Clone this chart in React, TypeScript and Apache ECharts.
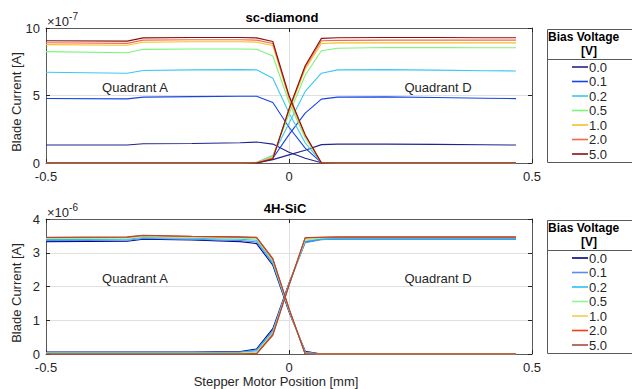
import React, { useEffect, useRef } from "react";
import * as echarts from "echarts";

// Stepper motor positions [mm]
const positions = [-0.5, -0.333, -0.3, -0.2, -0.1, -0.0667, -0.0333, 0, 0.0333, 0.0667, 0.1, 0.2, 0.3, 0.4, 0.467];

// Bias voltages [V]
const biasLabels = ["0.0", "0.1", "0.2", "0.5", "1.0", "2.0", "5.0"];

const diamondColors = ["#23238e", "#1446e6", "#3cc8f0", "#7af57a", "#f5c02a", "#f26a45", "#8b0f0f"];
const sicColors = ["#000080", "#5a8cf0", "#28c0f0", "#90f590", "#f5cc4a", "#f04010", "#aa4a40"];

// sc-diamond blade currents, units of 1e-7 A (one row per bias voltage)
const diamondQuadrantA = [
  [1.33, 1.33, 1.43, 1.45, 1.5, 1.55, 1.4, 0.8, 0.35, 0.02, 0, 0, 0, 0, 0],
  [4.78, 4.75, 4.88, 4.92, 4.95, 4.95, 4.48, 2.65, 1.1, 0.03, 0, 0, 0, 0, 0],
  [6.72, 6.65, 6.85, 6.9, 6.92, 6.9, 6.28, 3.7, 1.5, 0.05, 0, 0, 0, 0, 0],
  [8.25, 8.17, 8.42, 8.45, 8.45, 8.42, 7.93, 4.5, 1.85, 0.05, 0, 0, 0, 0, 0],
  [8.77, 8.72, 8.95, 8.98, 8.98, 8.95, 8.7, 4.8, 2.0, 0.03, 0, 0, 0, 0, 0],
  [8.91, 8.86, 9.1, 9.13, 9.13, 9.1, 8.85, 4.9, 2.05, 0.02, 0, 0, 0, 0, 0],
  [9.06, 9.03, 9.27, 9.3, 9.3, 9.27, 9.0, 5.0, 2.1, 0, 0, 0, 0, 0, 0],
];
const diamondQuadrantD = [
  [0, 0, 0, 0, 0, 0.01, 0.25, 0.6, 0.95, 1.36, 1.4, 1.4, 1.38, 1.35, 1.33],
  [0, 0, 0, 0, 0, 0.02, 0.35, 2.1, 3.7, 4.73, 4.88, 4.9, 4.85, 4.8, 4.77],
  [0, 0, 0, 0, 0, 0.05, 0.55, 2.95, 5.3, 6.65, 6.9, 6.92, 6.88, 6.83, 6.82],
  [0, 0, 0, 0, 0, 0.04, 0.5, 3.6, 6.5, 8.32, 8.5, 8.55, 8.55, 8.54, 8.54],
  [0, 0, 0, 0, 0, 0.03, 0.45, 3.85, 6.95, 8.85, 8.9, 8.9, 8.9, 8.9, 8.9],
  [0, 0, 0, 0, 0, 0.02, 0.35, 3.95, 7.1, 9.05, 9.08, 9.1, 9.1, 9.1, 9.1],
  [0, 0, 0, 0, 0, 0, 0.3, 4.0, 7.2, 9.23, 9.28, 9.3, 9.3, 9.28, 9.28],
];

// 4H-SiC blade currents, units of 1e-6 A (one row per bias voltage)
const sicQuadrantA = [
  [3.33, 3.34, 3.4, 3.38, 3.33, 3.27, 2.63, 1.25, 0.08, 0, 0, 0, 0, 0, 0],
  [3.36, 3.37, 3.42, 3.4, 3.36, 3.32, 2.68, 1.28, 0.06, 0, 0, 0, 0, 0, 0],
  [3.39, 3.4, 3.45, 3.43, 3.4, 3.37, 2.72, 1.3, 0.04, 0, 0, 0, 0, 0, 0],
  [3.42, 3.43, 3.48, 3.45, 3.43, 3.41, 2.76, 1.32, 0.02, 0, 0, 0, 0, 0, 0],
  [3.44, 3.45, 3.5, 3.47, 3.45, 3.44, 2.79, 1.33, 0.01, 0, 0, 0, 0, 0, 0],
  [3.45, 3.46, 3.51, 3.48, 3.46, 3.45, 2.81, 1.34, 0, 0, 0, 0, 0, 0, 0],
  [3.46, 3.47, 3.52, 3.49, 3.47, 3.46, 2.83, 1.35, 0, 0, 0, 0, 0, 0, 0],
];
const sicQuadrantD = [
  [0.06, 0.06, 0.06, 0.06, 0.07, 0.15, 0.75, 2.1, 3.32, 3.4, 3.41, 3.41, 3.41, 3.41, 3.41],
  [0.05, 0.05, 0.05, 0.05, 0.06, 0.12, 0.7, 2.08, 3.3, 3.39, 3.41, 3.41, 3.41, 3.41, 3.41],
  [0.04, 0.04, 0.04, 0.04, 0.05, 0.09, 0.66, 2.06, 3.34, 3.41, 3.42, 3.42, 3.42, 3.42, 3.42],
  [0.02, 0.02, 0.02, 0.02, 0.03, 0.05, 0.62, 2.05, 3.38, 3.44, 3.45, 3.45, 3.45, 3.45, 3.45],
  [0.01, 0.01, 0.01, 0.01, 0.01, 0.03, 0.6, 2.04, 3.42, 3.45, 3.46, 3.46, 3.46, 3.46, 3.46],
  [0, 0, 0, 0, 0, 0.01, 0.58, 2.04, 3.44, 3.46, 3.46, 3.46, 3.46, 3.46, 3.46],
  [0, 0, 0, 0, 0, 0, 0.55, 2.03, 3.45, 3.46, 3.47, 3.47, 3.47, 3.47, 3.47],
];

const FONT = "'Liberation Sans', Arial, Helvetica, sans-serif";
const TEXT = "#262626";
const BOX = "#5a5a5a";
const GRIDLINE = "#e0e0e0";

const panels = [
  { top: 28, yMax: 10, yInterval: 5, title: "sc-diamond", titleX: 282, exp: "-7", a: diamondQuadrantA, d: diamondQuadrantD, colors: diamondColors },
  { top: 219, yMax: 4, yInterval: 1, title: "4H-SiC", titleX: 285, exp: "-6", a: sicQuadrantA, d: sicQuadrantD, colors: sicColors },
];

const GRID_LEFT = 46;
const GRID_WIDTH = 486;
const GRID_HEIGHT = 135;

function buildOption() {
  const grid: any[] = [];
  const xAxis: any[] = [];
  const yAxis: any[] = [];
  const series: any[] = [];
  const graphic: any[] = [];

  panels.forEach((p, pi) => {
    grid.push({ left: GRID_LEFT, top: p.top, width: GRID_WIDTH, height: GRID_HEIGHT });
    const axisLine = { show: true, onZero: false, lineStyle: { color: BOX, width: 1 } };
    const tick = { show: true, inside: true, length: 4, lineStyle: { color: TEXT } };
    xAxis.push({
      gridIndex: pi, type: "value", min: -0.5, max: 0.5, interval: 0.5, position: "bottom",
      axisLine, axisTick: tick,
      axisLabel: { show: true, fontSize: 13, lineHeight: 11, fontFamily: FONT, color: TEXT, margin: 8, showMinLabel: true, showMaxLabel: true },
      splitLine: { show: true, lineStyle: { color: GRIDLINE, width: 1 } },
    });
    xAxis.push({
      gridIndex: pi, type: "value", min: -0.5, max: 0.5, interval: 0.5, position: "top",
      axisLine, axisTick: tick, axisLabel: { show: false }, splitLine: { show: false },
    });
    yAxis.push({
      gridIndex: pi, type: "value", min: 0, max: p.yMax, interval: p.yInterval, position: "left",
      axisLine, axisTick: tick,
      axisLabel: { show: true, fontSize: 13, lineHeight: 11, fontFamily: FONT, color: TEXT, margin: 6, showMinLabel: true, showMaxLabel: true },
      splitLine: { show: true, lineStyle: { color: GRIDLINE, width: 1 } },
    });
    yAxis.push({
      gridIndex: pi, type: "value", min: 0, max: p.yMax, interval: p.yInterval, position: "right",
      axisLine, axisTick: tick, axisLabel: { show: false }, splitLine: { show: false },
    });

    biasLabels.forEach((label, bi) => {
      [p.a[bi], p.d[bi]].forEach((vals) => {
        series.push({
          type: "line",
          name: label,
          xAxisIndex: pi * 2,
          yAxisIndex: pi * 2,
          data: positions.map((x, i) => [x, vals[i]]),
          showSymbol: false,
          symbol: "none",
          silent: true,
          z: 3 + bi,
          lineStyle: { color: p.colors[bi], width: 1.1 },
          itemStyle: { color: p.colors[bi] },
        });
      });
    });

    // Panel title
    graphic.push({
      type: "text", x: p.titleX, y: p.top - 11,
      style: { text: p.title, font: `bold 13px ${FONT}`, fill: "#000", align: "center", verticalAlign: "middle" },
    });
    // Exponent label
    graphic.push({
      type: "text", x: GRID_LEFT + 1, y: p.top - 7,
      style: {
        text: `{b|×10}{s|${p.exp}}`,
        align: "left", verticalAlign: "middle",
        rich: {
          b: { font: `13px ${FONT}`, fill: TEXT, color: TEXT },
          s: { font: `10px ${FONT}`, fill: TEXT, color: TEXT, verticalAlign: "bottom", padding: [0, 0, 9, 0] },
        },
      },
    });
    // Y axis name
    graphic.push({
      type: "text", x: 16, y: p.top + 74, rotation: Math.PI / 2,
      style: { text: "Blade Current [A]", font: `13px ${FONT}`, fill: TEXT, align: "center", verticalAlign: "middle" },
    });
    // Quadrant annotations
    graphic.push({
      type: "text", x: 135, y: p.top + 59,
      style: { text: "Quadrant A", font: `13px ${FONT}`, fill: TEXT, align: "center", verticalAlign: "middle" },
    });
    graphic.push({
      type: "text", x: 438, y: p.top + 59,
      style: { text: "Quadrant D", font: `13px ${FONT}`, fill: TEXT, align: "center", verticalAlign: "middle" },
    });

    // Legend box
    const ly = p.top + 1;
    graphic.push({
      type: "rect", shape: { x: 547.5, y: ly + 0.5, width: 100, height: 133 },
      style: { fill: "#fff", stroke: BOX, lineWidth: 1 }, z: 10,
    });
    graphic.push({
      type: "line", shape: { x1: 547.5, y1: ly + 30.5, x2: 640, y2: ly + 30.5 },
      style: { stroke: BOX, lineWidth: 1 }, z: 11,
    });
    graphic.push({
      type: "text", x: 548, y: ly + 8, z: 11,
      style: { text: "Bias Voltage", font: `bold 12px ${FONT}`, fill: "#000", align: "left", verticalAlign: "middle" },
    });
    graphic.push({
      type: "text", x: 589, y: ly + 22, z: 11,
      style: { text: "[V]", font: `bold 12px ${FONT}`, fill: "#000", align: "center", verticalAlign: "middle" },
    });
    biasLabels.forEach((label, bi) => {
      const yy = ly + 38 + bi * 14.5;
      graphic.push({
        type: "line", shape: { x1: 572, y1: yy, x2: 588, y2: yy },
        style: { stroke: p.colors[bi], lineWidth: 1.6 }, z: 11,
      });
      graphic.push({
        type: "text", x: 589, y: yy, z: 11,
        style: { text: label, font: `13px ${FONT}`, fill: TEXT, align: "left", verticalAlign: "middle" },
      });
    });
  });

  // X axis name under the lower panel
  graphic.push({
    type: "text", x: 276, y: 381,
    style: { text: "Stepper Motor Position [mm]", font: `13px ${FONT}`, fill: TEXT, align: "center", verticalAlign: "middle" },
  });

  return {
    animation: false,
    backgroundColor: "#fff",
    textStyle: { fontFamily: FONT },
    grid,
    xAxis,
    yAxis,
    series,
    graphic,
  };
}

export default function App() {
  const ref = useRef<HTMLDivElement>(null);
  useEffect(() => {
    if (!ref.current) return;
    const chart = echarts.init(ref.current, undefined, { renderer: "svg" });
    chart.setOption(buildOption() as any);
    return () => chart.dispose();
  }, []);
  return <div ref={ref} style={{ width: 632, height: 389, position: "absolute", left: 0, top: 0, background: "#fff" }} />;
}
